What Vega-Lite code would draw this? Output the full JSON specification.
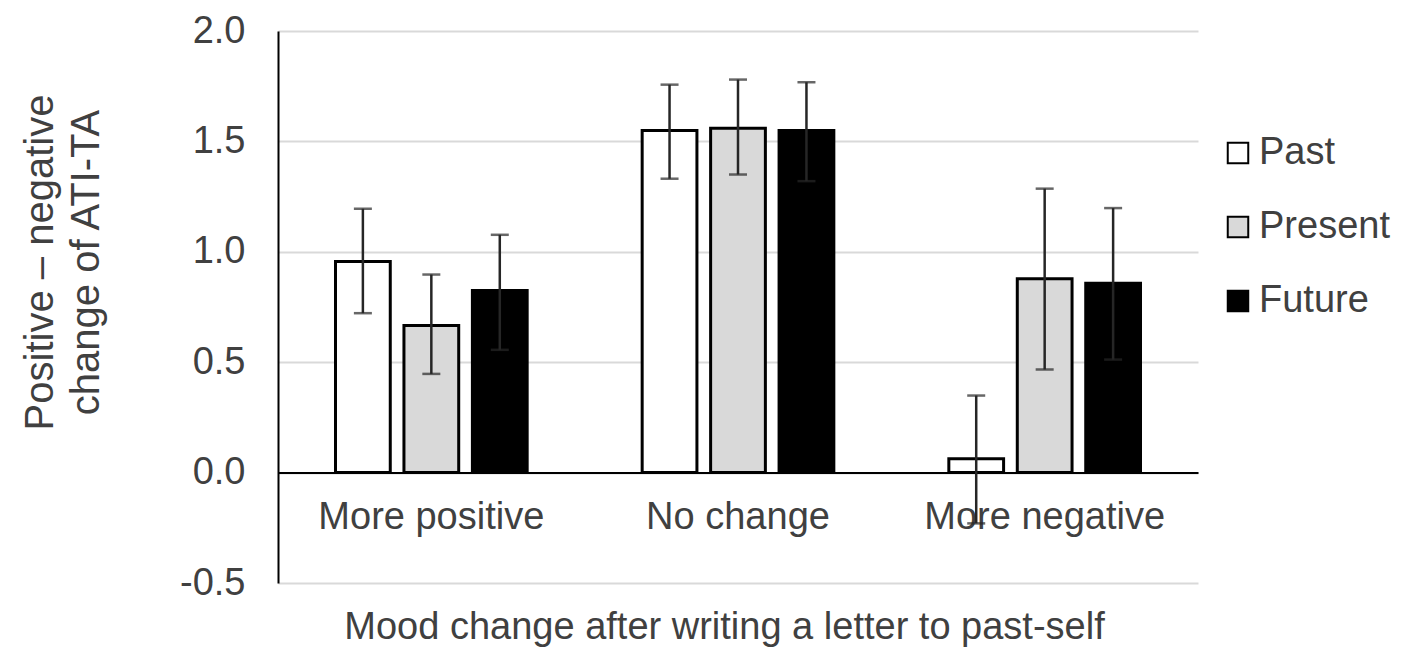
{
  "$schema": "https://vega.github.io/schema/vega-lite/v6.json",
  "description": "Positive - negative change of ATI-TA by mood change and letter type.",
  "width": 920,
  "height": 552,
  "autosize": {"type": "none"},
  "padding": {"left": 278, "top": 31, "right": 216, "bottom": 69},
  "background": "white",
  "config": {
    "font": "Liberation Sans",
    "view": {"stroke": null}
  },
  "data": {
    "values": [
      {"mood": "More positive", "letter": "Past", "value": 0.956, "lo": 0.722, "hi": 1.195},
      {"mood": "More positive", "letter": "Present", "value": 0.666, "lo": 0.447, "hi": 0.897},
      {"mood": "More positive", "letter": "Future", "value": 0.825, "lo": 0.556, "hi": 1.077},
      {"mood": "No change", "letter": "Past", "value": 1.549, "lo": 1.331, "hi": 1.757},
      {"mood": "No change", "letter": "Present", "value": 1.56, "lo": 1.35, "hi": 1.78},
      {"mood": "No change", "letter": "Future", "value": 1.549, "lo": 1.32, "hi": 1.768},
      {"mood": "More negative", "letter": "Past", "value": 0.063, "lo": -0.23, "hi": 0.349},
      {"mood": "More negative", "letter": "Present", "value": 0.878, "lo": 0.467, "hi": 1.286},
      {"mood": "More negative", "letter": "Future", "value": 0.858, "lo": 0.512, "hi": 1.198}
    ]
  },
  "encoding": {
    "x": {
      "field": "mood",
      "type": "nominal",
      "sort": ["More positive", "No change", "More negative"],
      "scale": {"paddingInner": 0, "paddingOuter": 0},
      "axis": {
        "title": "Mood change after writing a letter to past-self",
        "titleFontSize": 38,
        "titleFontWeight": "normal",
        "titleColor": "#404040",
        "titleX": 446,
        "titleY": 166,
        "titleAlign": "center",
        "titleBaseline": "alphabetic",
        "labelAngle": 0,
        "labelFontSize": 38,
        "labelColor": "#404040",
        "labelPadding": 26,
        "labelLimit": 0,
        "ticks": false,
        "domainColor": "black",
        "domainWidth": 2,
        "offset": -110.4
      }
    },
    "xOffset": {
      "field": "letter",
      "type": "nominal",
      "sort": ["Past", "Present", "Future"],
      "scale": {"paddingInner": 0.2, "paddingOuter": 0.84}
    },
    "y": {
      "field": "value",
      "type": "quantitative",
      "scale": {"domain": [-0.5, 2.0], "nice": false, "zero": false},
      "axis": {
        "values": [-0.5, 0, 0.5, 1.0, 1.5, 2.0],
        "format": ".1f",
        "labelExpr": "replace(datum.label, '−', '-')",
        "title": ["Positive – negative", "change of ATI-TA"],
        "titleFontSize": 40,
        "titleFontWeight": "normal",
        "titleColor": "#404040",
        "titleLineHeight": 46,
        "titleX": -238,
        "titleY": 231,
        "titleAngle": -90,
        "titleAlign": "center",
        "titleBaseline": "middle",
        "labelFontSize": 38,
        "labelColor": "#404040",
        "labelPadding": 33,
        "ticks": false,
        "domainColor": "black",
        "domainWidth": 2,
        "gridColor": "#d9d9d9",
        "gridWidth": 2
      }
    }
  },
  "layer": [
    {
      "mark": {"type": "bar", "stroke": "black", "strokeWidth": 3},
      "encoding": {
        "color": {
          "field": "letter",
          "type": "nominal",
          "sort": ["Past", "Present", "Future"],
          "scale": {"domain": ["Past", "Present", "Future"], "range": ["white", "#d9d9d9", "black"]},
          "legend": {
            "title": null,
            "orient": "none",
            "legendX": 941,
            "legendY": 103,
            "symbolType": "square",
            "symbolSize": 420,
            "symbolStrokeColor": "black",
            "symbolStrokeWidth": 2,
            "symbolOpacity": 1,
            "labelFontSize": 38,
            "labelColor": "#404040",
            "labelOffset": 2,
            "rowPadding": 36
          }
        }
      }
    },
    {
      "mark": {"type": "rule", "color": "#262626", "strokeWidth": 2.5},
      "encoding": {"y": {"field": "lo", "type": "quantitative"}, "y2": {"field": "hi"}}
    },
    {
      "mark": {"type": "tick", "orient": "horizontal", "color": "#262626", "size": 18, "thickness": 2.5},
      "encoding": {"y": {"field": "lo", "type": "quantitative"}}
    },
    {
      "mark": {"type": "tick", "orient": "horizontal", "color": "#262626", "size": 18, "thickness": 2.5},
      "encoding": {"y": {"field": "hi", "type": "quantitative"}}
    }
  ]
}
